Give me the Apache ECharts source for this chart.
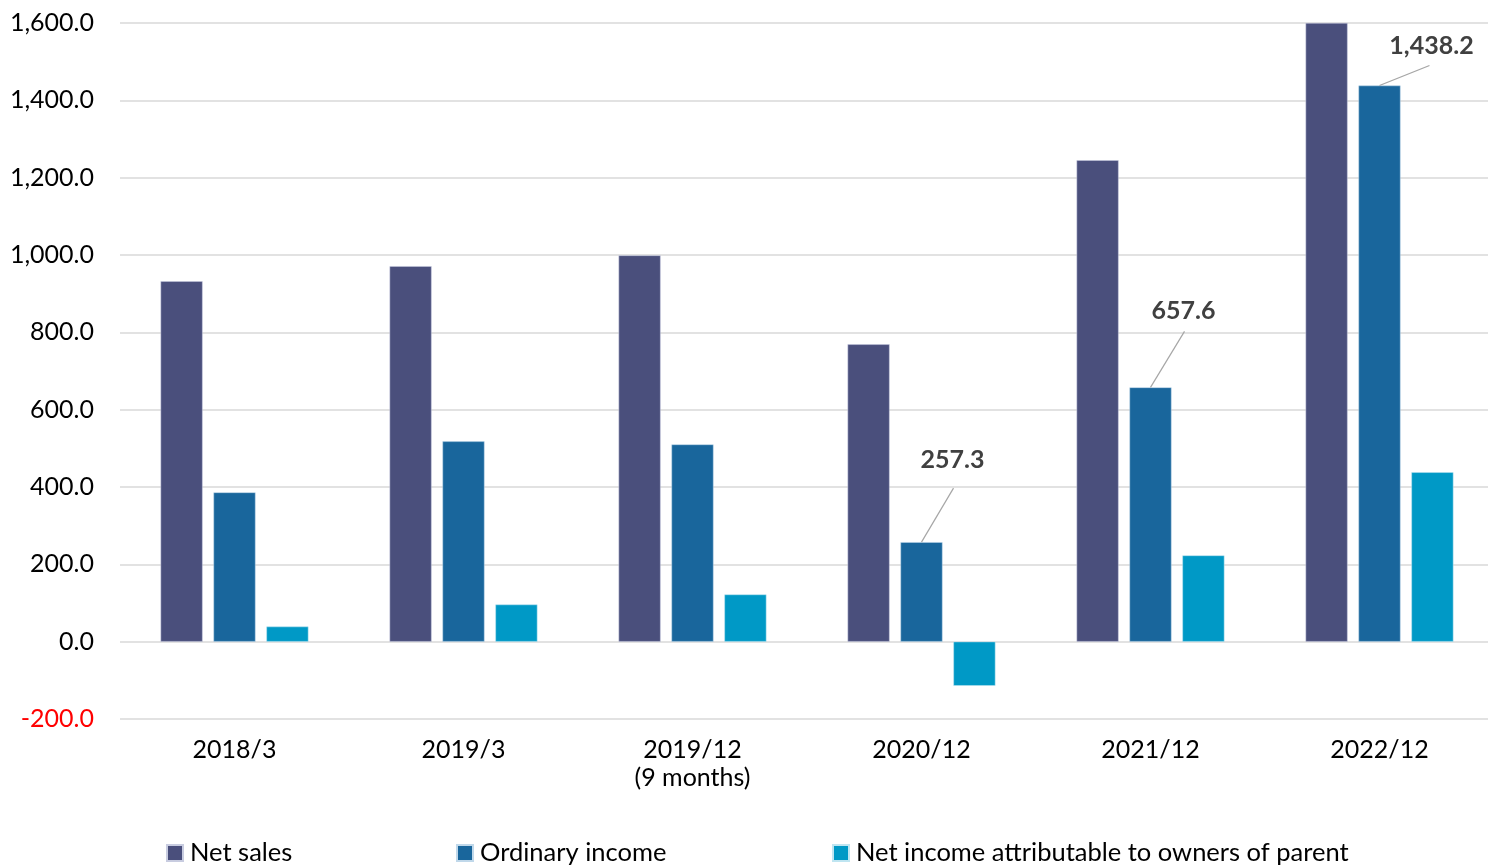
<!DOCTYPE html>
<html><head><meta charset="utf-8">
<script src="https://cdn.jsdelivr.net/npm/echarts@6/dist/echarts.min.js"></script>
<style>html,body{margin:0;padding:0;background:#fff}#c{width:1488px;height:867px}</style>
</head><body><div id="c"></div>
<script>
const categories = ['2018/3', '2019/3', '2019/12\n(9 months)', '2020/12', '2021/12', '2022/12'];
const netSales = [932, 971, 999, 769, 1245, 1600];
const ordinaryIncome = [386, 518, 510, 257.3, 657.6, 1438.2];
const netIncome = [39, 96, 122, -114, 223, 438];
const labeledIdx = [3, 4, 5];
// leader line end offset [dx, dy] and label centre offset [dx, dy] from bar top
const labelShift = { 3: [32, -54, 31, -82], 4: [34, -56, 33, -76], 5: [50, -20, 52, -40] };

const FONT = 'Lato, "Noto Sans", sans-serif';
const fmt = v => {
  const s = Math.abs(v).toFixed(1).split('.');
  s[0] = s[0].replace(/\B(?=(\d{3})+(?!\d))/g, ',');
  return (v < 0 ? '-' : '') + s.join('.');
};
const chart = echarts.init(document.getElementById('c'), null, { renderer: 'canvas' });
const legendBase = { orient: 'horizontal', top: 840, padding: 0, itemWidth: 16, itemHeight: 16, itemGap: 20, icon: 'rect',
  textStyle: { fontFamily: FONT, fontSize: 25.5, color: '#000', padding: [0, 0, 0, 2] }, selectedMode: false };
const calloutData = labeledIdx.map(i => [i, ordinaryIncome[i]]);
chart.setOption({
  animation: false,
  textStyle: { fontFamily: FONT },
  grid: { left: 120, width: 1374, top: 23, bottom: 148, containLabel: false, outerBoundsMode: 'none' },
  legend: [
    Object.assign({}, legendBase, { left: 166, data: ['Net sales'] }),
    Object.assign({}, legendBase, { left: 456, data: ['Ordinary income'] }),
    Object.assign({}, legendBase, { left: 832, data: ['Net income attributable to owners of parent'] })
  ],
  xAxis: {
    type: 'category', data: categories,
    axisLine: { show: false }, axisTick: { show: false },
    axisLabel: { fontFamily: FONT, fontSize: 25, color: '#000', margin: 17, lineHeight: 28 }
  },
  yAxis: {
    type: 'value', min: -200, max: 1600, interval: 200,
    axisLine: { show: false }, axisTick: { show: false },
    splitLine: { lineStyle: { color: '#d9d9d9', width: 1.5 } },
    axisLabel: { fontFamily: FONT, fontSize: 25, margin: 26,
      color: v => (Number(v) < 0 ? '#ff0000' : '#000'),
      formatter: v => fmt(v) }
  },
  series: [
    { name: 'Net sales', type: 'bar', data: netSales, barWidth: 42, barGap: '26%',
      itemStyle: { color: '#4a4f7c', borderColor: '#c8cce0', borderWidth: 0.5 } },
    { name: 'Ordinary income', type: 'bar', data: ordinaryIncome, barWidth: 42,
      itemStyle: { color: '#19669c', borderColor: '#c0d8ea', borderWidth: 0.5 } },
    { name: 'Net income attributable to owners of parent', type: 'bar', data: netIncome, barWidth: 42,
      itemStyle: { color: '#0099c6', borderColor: '#bfe5f1', borderWidth: 0.5 } },
    { type: 'custom', data: calloutData, silent: true, clip: false, z: 10,
      renderItem: (params, api) => {
        const i = api.value(0), v = api.value(1);
        const p = api.coord([i, v]);
        const s = labelShift[i];
        return { type: 'group', children: [
          { type: 'line', shape: { x1: p[0], y1: p[1], x2: p[0] + s[0], y2: p[1] + s[1] },
            style: { stroke: '#a6a6a6', lineWidth: 1.2 } },
          { type: 'text', x: p[0] + s[2], y: p[1] + s[3],
            style: { text: fmt(v), fill: '#404040', fontFamily: FONT, fontSize: 25, fontWeight: 'bold',
              align: 'center', verticalAlign: 'middle' } }
        ] };
      } }
  ]
});
</script></body></html>
